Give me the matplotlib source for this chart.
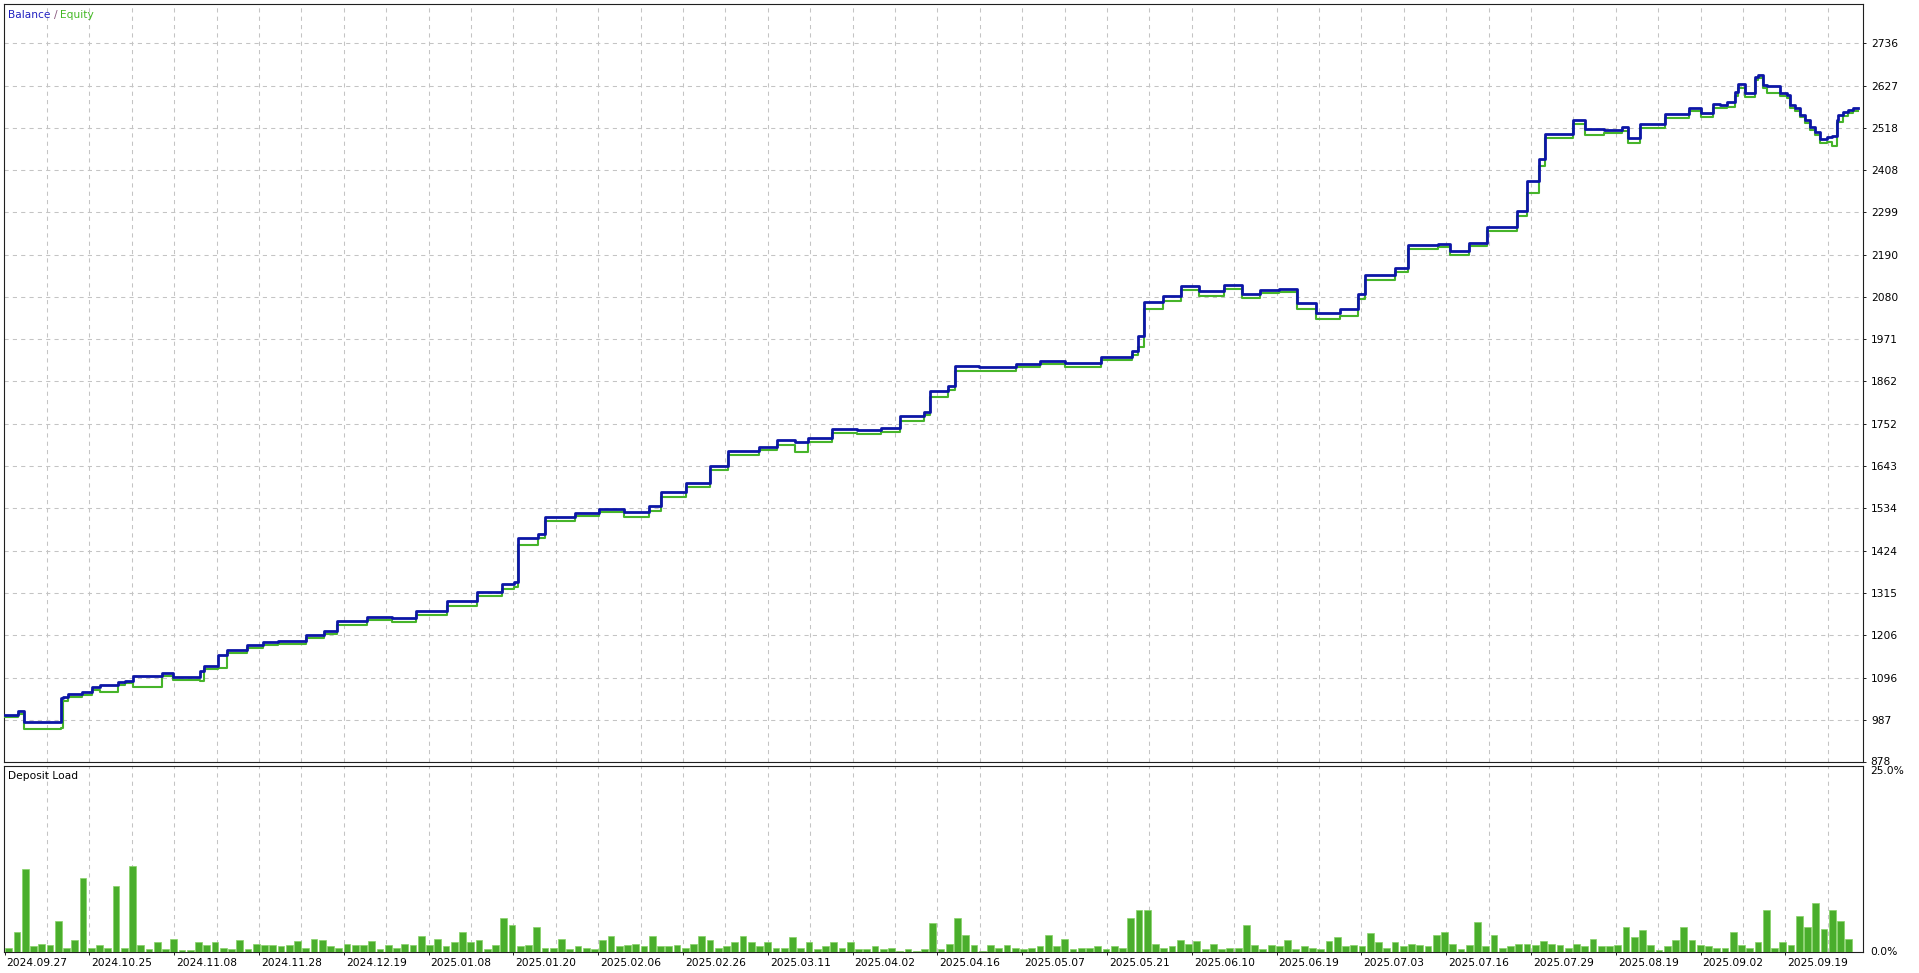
import numpy as np
import matplotlib
matplotlib.use("Agg")
import matplotlib.pyplot as plt
from matplotlib.transforms import Bbox, ScaledTranslation

# ---------------- data ----------------
# time axis in "date-slot" units (one slot = one vertical grid interval)
date_labels = ["2024.09.27", "2024.10.25", "2024.11.08", "2024.11.28", "2024.12.19",
               "2025.01.08", "2025.01.20", "2025.02.06", "2025.02.26", "2025.03.11",
               "2025.04.02", "2025.04.16", "2025.05.07", "2025.05.21", "2025.06.10",
               "2025.06.19", "2025.07.03", "2025.07.16", "2025.07.29", "2025.08.19",
               "2025.09.02", "2025.09.19"]

y_tick_labels = [878, 987, 1096, 1206, 1315, 1424, 1534, 1643, 1752, 1862,
                 1971, 2080, 2190, 2299, 2408, 2518, 2627, 2736]

bal_t = [-1.00, -0.68, -0.54, 0.33, 0.38, 0.50, 0.83, 1.06, 1.25, 1.67, 1.84, 2.03,
         2.71, 2.97, 3.61, 3.70, 4.03, 4.25, 4.72, 5.09, 5.45,
         6.11, 6.54, 6.83, 7.55, 8.13, 8.71, 9.43, 10.15, 10.73, 11.01,
         11.10, 11.59, 11.74, 12.46, 13.03, 13.61, 14.19, 14.48, 15.06, 15.63, 16.07, 16.79,
         17.22, 17.65, 17.94, 18.52, 19.10, 19.67, 20.11, 20.68, 20.83, 21.26, 21.41, 21.98,
         22.85, 23.43, 24.00, 24.87, 25.59, 25.74, 25.88, 26.31, 26.75, 27.18, 27.76, 28.19,
         28.62, 29.06, 29.49, 29.92, 30.50, 30.93, 31.08, 31.80, 32.09, 32.81, 33.10, 33.53,
         33.96, 34.68, 34.91, 35.20, 35.32, 35.98, 36.27, 36.71, 37.14, 37.28, 37.57, 38.15,
         38.73, 39.01, 39.30,
         39.46, 39.62, 39.81, 39.88, 40.05, 40.28, 40.35, 40.47, 40.57, 40.87, 41.04,
         41.11, 41.23, 41.34, 41.46, 41.58, 41.70, 41.82, 41.98, 42.10, 42.22, 42.24,
         42.36, 42.48, 42.59, 42.71]

balance = [999, 1009, 981, 1042, 1046, 1053, 1059, 1072, 1077, 1085, 1088, 1100,
           1107, 1098, 1114, 1126, 1154, 1167, 1180, 1189, 1191,
           1205, 1217, 1243, 1252, 1249, 1268, 1293, 1318, 1337, 1344,
           1457, 1467, 1511, 1521, 1533, 1524, 1539, 1577, 1599, 1644, 1682, 1691,
           1710, 1704, 1716, 1738, 1735, 1741, 1773, 1783, 1836, 1849, 1902, 1899,
           1906, 1915, 1909, 1925, 1940, 1978, 2067, 2083, 2108, 2095, 2111, 2089,
           2098, 2102, 2064, 2038, 2048, 2089, 2136, 2155, 2215, 2218, 2199, 2221,
           2262, 2303, 2379, 2436, 2502, 2537, 2515, 2512, 2521, 2490, 2528, 2553,
           2569, 2556, 2578,
           2576, 2585, 2611, 2632, 2607, 2650, 2654, 2628, 2626, 2607, 2602,
           2576, 2568, 2551, 2538, 2520, 2507, 2488, 2493, 2496, 2538, 2551,
           2559, 2563, 2568, 2568]

equity = [994, 1003, 962, 966, 1036, 1046, 1052, 1065, 1058, 1078, 1081, 1072,
          1100, 1090, 1087, 1118, 1122, 1160, 1172, 1180, 1184,
          1198, 1208, 1232, 1244, 1240, 1259, 1280, 1306, 1326, 1330,
          1440, 1458, 1500, 1514, 1525, 1512, 1528, 1562, 1588, 1632, 1672, 1684,
          1698, 1680, 1706, 1728, 1726, 1732, 1760, 1774, 1822, 1840, 1890, 1890,
          1898, 1906, 1900, 1916, 1930, 1950, 2050, 2070, 2098, 2084, 2100, 2078,
          2090, 2092, 2050, 2024, 2032, 2074, 2124, 2144, 2204, 2210, 2188, 2212,
          2250, 2290, 2350, 2420, 2490, 2528, 2500, 2503, 2510, 2478, 2518, 2544,
          2560, 2546, 2568,
          2570, 2572, 2600, 2620, 2597, 2640, 2646, 2620, 2608, 2600, 2596,
          2570, 2560, 2545, 2530, 2512, 2498, 2478, 2480, 2470, 2530, 2533,
          2548, 2556, 2562, 2562]

# deposit load, % per bar (left to right)
deposit_load = [
    0.5, 2.7, 11.2, 0.8, 1.1, 0.9, 4.2, 0.5, 1.6, 9.9, 0.5, 0.9, 0.5, 8.9, 0.5, 11.5,
    0.9, 0.4, 1.3, 0.4, 1.7, 0.3, 0.3, 1.3, 0.9, 1.3, 0.5, 0.4, 1.6, 0.4, 1.1, 0.9,
    0.9, 0.8, 0.9, 1.5, 0.5, 1.8, 1.6, 0.8, 0.5, 1.1, 0.9, 0.9, 1.5, 0.4, 0.9, 0.5,
    1.1, 0.9, 2.2, 0.9, 1.8, 0.8, 1.3, 2.7, 1.3, 1.6, 0.4, 0.9, 4.6, 3.6, 0.8, 0.9,
    3.4, 0.5, 0.5, 1.8, 0.4, 0.8, 0.5, 0.4, 1.6, 2.2, 0.8, 0.9, 1.1, 0.8, 2.2, 0.8,
    0.8, 0.9, 0.5,
    1.1, 2.2, 1.6, 0.6, 0.8, 1.3, 2.2, 1.3, 0.8, 1.3, 0.5, 0.5, 2.0, 0.5, 1.4, 0.4,
    0.8, 1.3, 0.5, 1.3, 0.4, 0.4, 0.8, 0.4, 0.5, 0.2, 0.4, 0.2, 0.4, 3.9, 0.4, 1.1,
    4.6, 2.3, 0.9, 0.1, 0.9, 0.6, 0.9, 0.5, 0.4, 0.6, 0.8, 2.3, 0.8, 1.8, 0.4, 0.5,
    0.5, 0.8, 0.4, 0.8, 0.5, 4.6, 5.7, 5.6, 1.1, 0.5, 0.8, 1.6, 1.1, 1.5, 0.4, 1.1,
    0.4, 0.5, 0.5, 3.6, 0.9, 0.4, 0.9, 0.8, 1.6, 0.4, 0.8, 0.5, 0.4, 1.5, 2.0, 0.8,
    0.9, 0.8, 2.5, 1.3, 0.5, 1.3, 0.8,
    1.1, 0.9, 0.8, 2.3, 2.7, 1.1, 0.4, 0.9, 4.0, 0.8, 2.3, 0.5, 0.8, 1.1, 1.1, 0.9,
    1.5, 1.1, 0.9, 0.5, 1.1, 0.8, 1.8, 0.8, 0.8, 0.9, 3.3, 2.0, 2.9, 0.9, 0.3, 0.8,
    1.6, 3.3, 1.6, 0.9, 0.8, 0.5, 0.5, 2.7, 0.9, 0.5, 1.3, 5.6, 0.5, 1.3, 0.9, 4.9,
    3.4, 6.6, 3.1, 5.7, 4.2, 1.8]

# ---------------- styling ----------------
W, H = 1919, 973
FS = 7.7
TXT = "#000000"
GRID = "#c4c4c4"
BAL_C = "#0c16a6"
EQ_C = "#46b42a"
BAR_C = "#4aae2c"
BAR_E = "#86d266"

plt.rcParams["font.family"] = ["DejaVu Sans"]
fig = plt.figure(figsize=(W / 100, H / 100), dpi=100)
fig.patch.set_facecolor("white")


def rect(l, t, r, b):
    return [l / W, 1 - b / H, (r - l) / W, (b - t) / H]


ax = fig.add_axes(rect(4, 4, 1863, 762))
ax2 = fig.add_axes(rect(4, 766, 1863, 952))

x_lo, x_hi = -1.014, 42.83
grid_pos = list(range(0, 43))
label_pos = list(range(-1, 42, 2))

for a in (ax, ax2):
    a.set_xlim(x_lo, x_hi)
    a.set_xticks(grid_pos)
    a.tick_params(axis="x", which="major", length=0, labelbottom=False)
    a.grid(True, axis="x", which="major", color=GRID, linestyle=(0, (4, 4)),
           linewidth=0.75)
    a.set_axisbelow(True)
    for s in a.spines.values():
        s.set_color("#202020")
        s.set_linewidth(0.8)

# ---- top panel ----
ax.set_ylim(877.67, 2837.8)
ax.yaxis.tick_right()
ax.set_yticks(y_tick_labels)
ax.set_yticklabels([str(v) if v != 878 else "" for v in y_tick_labels])
ax.tick_params(axis="y", direction="out", length=2.2, width=0.7, pad=3.5,
               labelsize=FS, labelcolor=TXT, color="#202020")
ax.grid(True, axis="y", color=GRID, linestyle=(0, (4, 4)), linewidth=0.75)

ax.step(bal_t, equity, where="post", color=EQ_C, linewidth=1.5, zorder=3)
ax.step(bal_t, balance, where="post", color=BAL_C, linewidth=2.0, zorder=4)

# legend text
t1 = fig.text(8 / W, 1 - 15 / H, "Balance", fontsize=FS, color="#2020c0",
              va="center", ha="left")
fig.canvas.draw()
r = fig.canvas.get_renderer()
bb = t1.get_window_extent(r)
t2 = fig.text((bb.x1 + 3) / W, 1 - 15 / H, "/", fontsize=FS, color="#8a5a80",
              va="center", ha="left")
bb2 = t2.get_window_extent(r)
fig.text((bb2.x1 + 3) / W, 1 - 15 / H, "Equity", fontsize=FS, color="#44b824",
         va="center", ha="left")

# clipped 878 label at bottom of top panel
t878 = fig.text(1870 / W, 1 - 762 / H, "878", fontsize=FS, color=TXT,
                va="center", ha="left")
t878.set_clip_box(Bbox.from_extents(0, H - 765, W, H))
t878.set_clip_on(True)

# ---- bottom panel ----
n = len(deposit_load)
start, end = -1.0, 42.59
pitch = (end - start) / n
xb = start + (np.arange(n) + 0.5) * pitch
ax2.bar(xb, deposit_load, width=pitch * 0.82, color=BAR_C, edgecolor=BAR_E,
        linewidth=0.5, zorder=3)
ax2.set_ylim(0, 25)
ax2.yaxis.tick_right()
ax2.set_yticks([0, 25])
ax2.set_yticklabels(["0.0%", "25.0%"])
ax2.tick_params(axis="y", direction="out", length=0, pad=5,
                labelsize=FS, labelcolor=TXT)
ax2.yaxis.get_major_ticks()[1].label2.set_va("top")
ax2.yaxis.get_major_ticks()[0].label2.set_va("center")

ax2.xaxis.remove_overlapping_locs = False
ax2.set_xticks(label_pos, minor=True)
ax2.set_xticklabels(date_labels, minor=True)
ax2.tick_params(axis="x", which="minor", direction="out", length=2.5, width=0.7,
                pad=1.5, labelsize=FS, labelcolor=TXT, color="#202020",
                labelbottom=True)
off = ScaledTranslation(2 / 100, 0, fig.dpi_scale_trans)
for lbl in ax2.get_xticklabels(minor=True):
    lbl.set_ha("left")
    lbl.set_transform(lbl.get_transform() + off)

fig.text(8 / W, 1 - 776 / H, "Deposit Load", fontsize=FS, color=TXT,
         va="center", ha="left")

fig.savefig("out.png", dpi=100, facecolor="white")
